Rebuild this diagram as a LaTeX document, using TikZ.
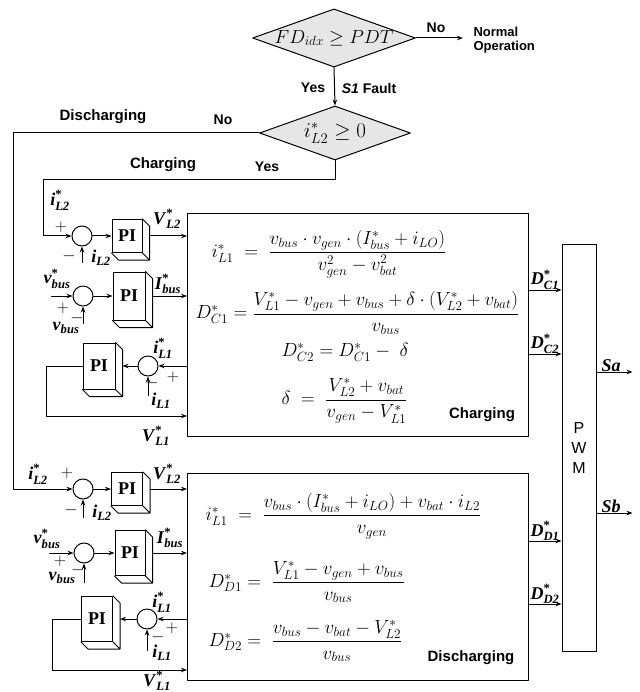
\documentclass[tikz,border=0pt]{standalone}
\usepackage{fix-cm}
\usepackage{amsmath}
\usepackage{fontspec}
\setmainfont{Liberation Serif}
\newfontfamily\arialf{Liberation Sans}
\usetikzlibrary{shapes.geometric,arrows.meta,calc,fit}
\definecolor{dgray}{RGB}{231,230,230}
\newcommand{\sgs}[2]{$\textbf{\textit{#1}}^{\textbf{*}}_{\textbf{\textit{#2}}}$}
\newcommand{\sgn}[2]{$\textbf{\textit{#1}}_{\textbf{\textit{#2}}}$}

\begin{document}
\begin{tikzpicture}[x=1pt,y=-1pt,line cap=round,line join=round,line width=1pt,
  >={Stealth[length=6pt,width=4.5pt]},
  dia/.style={diamond,draw,fill=dgray,shape aspect=2.8,inner sep=0pt,font=\fontsize{19}{21}\selectfont},
  sumc/.style={circle,draw,minimum size=20,inner sep=0pt},
  piblk/.style={rectangle,draw,inner sep=0pt,font=\fontsize{18}{20}\selectfont\bfseries},
  sig/.style={inner sep=0pt,font=\fontsize{18}{20}\selectfont},
  pm/.style={inner sep=0pt,font=\fontsize{17}{19}\selectfont},
  lbl/.style={inner sep=0pt,font=\arialf\bfseries\fontsize{14}{16}\selectfont},
  eq/.style={anchor=west,inner sep=0pt,font=\fontsize{19}{21}\selectfont},
  blk/.style={rectangle,draw,anchor=north west,inner sep=0pt}]
  \useasboundingbox (0,0) rectangle (639,692);

  % 故障判断
  \node[dia,minimum width=162,minimum height=58] (fd) at (334,38) {$FD_{idx}\geq PDT$};
  \node[dia,minimum width=151,minimum height=54,font=\fontsize{21}{23}\selectfont] (ch) at (335,133) {$i^{*}_{L2}\geq 0$};
  \node[lbl,anchor=west,align=left,font=\arialf\bfseries\fontsize{13}{14}\selectfont] (norm) at (473,40) {Normal\\Operation};
  \node[lbl] (no1) at (436,28) {No};
  \node[lbl] (yes1) at (313,88) {Yes};
  \node[lbl] (flt) at (369,88) {\textit{S1} Fault};
  \node[lbl] (no2) at (223,120) {No};
  \node[lbl] (yes2) at (267,167) {Yes};
  \node[lbl,font=\arialf\bfseries\fontsize{15}{17}\selectfont] (dlab) at (103,117) {Discharging};
  \node[lbl,font=\arialf\bfseries\fontsize{15}{17}\selectfont] (clab) at (163,165) {Charging};
  \coordinate (cbend) at (43,180);
  \coordinate (dbend) at (13,133);

  % 充电支路
  \node[sumc] (cs1) at (82,236) {};
  \node[sumc] (cs2) at (83,296) {};
  \node[sumc] (cs3) at (148,366) {};
  \node[piblk,minimum width=30,minimum height=33] (cpi1) at (127,236) {PI};
  \node[piblk,minimum width=32,minimum height=48] (cpi2) at (129,296) {PI};
  \node[piblk,minimum width=32,minimum height=46] (cpi3) at (99,366) {PI};
  \node[blk,minimum width=341,minimum height=223] (cbox) at (187,213) {};
  \node[sig] (c1r) at (60,200) {\sgs{i}{L2}};
  \node[pm] (c1p) at (61,227) {$+$};
  \node[pm] (c1m) at (69,256) {$-$};
  \node[sig] (c1f) at (101,258) {\sgn{i}{L2}};
  \node[sig] (c1o) at (167,219) {\sgs{V}{L2}};
  \node[sig] (c2r) at (57,279) {\sgs{v}{bus}};
  \node[pm] (c2p) at (63,308) {$+$};
  \node[pm] (c2m) at (77,318) {$-$};
  \node[sig] (c2f) at (66,328) {\sgn{v}{bus}};
  \node[sig] (c2o) at (168,284) {\sgs{I}{bus}};
  \node[sig] (c3r) at (163,348) {\sgs{i}{L1}};
  \node[pm] (c3p) at (173,377) {$+$};
  \node[pm] (c3m) at (152,383) {$-$};
  \node[sig] (c3f) at (161,401) {\sgn{i}{L1}};
  \node[sig] (c3o) at (156,436) {\sgs{V}{L1}};

  % 放电支路
  \node[sumc] (ds1) at (83,489) {};
  \node[sumc] (ds2) at (84,553) {};
  \node[sumc] (ds3) at (147,619) {};
  \node[piblk,minimum width=31,minimum height=33] (dpi1) at (127,489) {PI};
  \node[piblk,minimum width=30,minimum height=45] (dpi2) at (130,553) {PI};
  \node[piblk,minimum width=31,minimum height=45] (dpi3) at (97,619) {PI};
  \node[blk,minimum width=341,minimum height=207] (dbox) at (187,473) {};
  \node[sig] (d1r) at (38,474) {\sgs{i}{L2}};
  \node[pm] (d1p) at (67,473) {$+$};
  \node[pm] (d1m) at (71,510) {$-$};
  \node[sig] (d1f) at (102,513) {\sgn{i}{L2}};
  \node[sig] (d1o) at (167,474) {\sgs{V}{L2}};
  \node[sig] (d2r) at (47,539) {\sgs{v}{bus}};
  \node[pm] (d2p) at (60,561) {$+$};
  \node[pm] (d2m) at (78,570) {$-$};
  \node[sig] (d2f) at (62,578) {\sgn{v}{bus}};
  \node[sig] (d2o) at (170,538) {\sgs{I}{bus}};
  \node[sig] (d3r) at (162,602) {\sgs{i}{L1}};
  \node[pm] (d3p) at (172,628) {$+$};
  \node[pm] (d3m) at (158,637) {$-$};
  \node[sig] (d3f) at (162,653) {\sgn{i}{L1}};
  \node[sig] (d3o) at (157,681) {\sgs{V}{L1}};

  % 方程
  \node[eq] (e1) at (211,254) {$i^{*}_{L1}\;=\;\dfrac{v_{bus}\cdot v_{gen}\cdot(I^{*}_{bus}+i_{LO})}{v^{2}_{gen}-v^{2}_{bat}}$};
  \node[eq] (e2) at (195,313) {$D^{*}_{C1}=\dfrac{V^{*}_{L1}-v_{gen}+v_{bus}+\delta\cdot(V^{*}_{L2}+v_{bat})}{v_{bus}}$};
  \node[eq] (e3) at (281,352) {$D^{*}_{C2}=D^{*}_{C1}-\;\delta$};
  \node[eq] (e4) at (281,401) {$\delta\;=\;\dfrac{V^{*}_{L2}+v_{bat}}{v_{gen}-V^{*}_{L1}}$};
  \node[eq] (f1) at (205,516) {$i^{*}_{L1}\;=\;\dfrac{v_{bus}\cdot(I^{*}_{bus}+i_{LO})+v_{bat}\cdot i_{L2}}{v_{gen}}$};
  \node[eq] (f2) at (208,582) {$D^{*}_{D1}=\;\dfrac{V^{*}_{L1}-v_{gen}+v_{bus}}{v_{bus}}$};
  \node[eq] (f3) at (208,641) {$D^{*}_{D2}=\;\dfrac{v_{bus}-v_{bat}-V^{*}_{L2}}{v_{bus}}$};
  \node[lbl,font=\arialf\bfseries\fontsize{15}{17}\selectfont] (cmode) at (482,415) {Charging};
  \node[lbl,font=\arialf\bfseries\fontsize{15}{17}\selectfont] (dmode) at (471,658) {Discharging};

  % PWM
  \coordinate (ptl) at (562,245);
  \coordinate (pbr) at (596,651);
  \node[draw,inner sep=0pt,fit=(ptl)(pbr)] (pwm) {};
  \node[align=center,inner sep=0pt,font=\arialf\fontsize{16}{20}\selectfont] (pwmt) at (pwm.center) {P\\W\\M};
  \node[sig,anchor=south] (dc1) at (545,290) {\sgs{D}{C1}};
  \node[sig,anchor=south] (dc2) at (545,354) {\sgs{D}{C2}};
  \node[sig,anchor=south] (dd1) at (545,541) {\sgs{D}{D1}};
  \node[sig,anchor=south] (dd2) at (545,604) {\sgs{D}{D2}};
  \node[sig,anchor=south] (sa) at (611,372) {\textbf{\textit{Sa}}};
  \node[sig,anchor=south] (sb) at (611,513) {\textbf{\textit{Sb}}};

  % PI 立体侧面
  \foreach \n in {cpi1,cpi2,cpi3,dpi1,dpi2,dpi3} {
    \draw (\n.north east) -- ++(7,7) -- ($(\n.south east)+(7,7)$) -- ($(\n.south west)+(7,7)$) -- (\n.south west)
      (\n.south east) -- ++(7,7);
  }

  % 连线
  \draw[->] (fd.east) -- (fd.east -| norm.west) [shorten >=10pt];
  \draw[->] (fd.south) -- (ch.north);
  \draw[->] (ch.south) |- (cbend) |- (cs1.west);
  \draw[->] (ch.west) -- (dbend) |- (ds1.west);

  \draw[->] (cs1.east) -- (cpi1.west);
  \draw[->] ([xshift=7pt]cpi1.east) -- (cbox.west |- cpi1.east);
  \draw[<-] (cs1.south) -- ++(0,16);
  \draw[<-] (cs2.west) -- ++(-21,0);
  \draw[->] (cs2.east) -- (cpi2.west);
  \draw[->] ([xshift=7pt]cpi2.east) -- (cbox.west |- cpi2.east);
  \draw[<-] (cs2.south) -- ++(0,17);
  \draw[->] (cbox.west |- cs3.east) -- (cs3.east);
  \draw[->] (cs3.west) -- ([xshift=7pt]cpi3.east);
  \draw[<-] (cs3.south) -- ++(0,19);
  \coordinate (cvl) at (46,416);
  \draw[->] (cpi3.west) -| (cvl) -- (cvl -| cbox.west);

  \draw[->] (ds1.east) -- (dpi1.west);
  \draw[->] ([xshift=7pt]dpi1.east) -- (dbox.west |- dpi1.east);
  \draw[<-] (ds1.south) -- ++(0,18);
  \draw[<-] (ds2.west) -- ++(-24,0);
  \draw[->] (ds2.east) -- (dpi2.west);
  \draw[->] ([xshift=7pt]dpi2.east) -- (dbox.west |- dpi2.east);
  \draw[<-] (ds2.south) -- ++(0,19);
  \draw[->] (dbox.west |- ds3.east) -- (ds3.east);
  \draw[->] (ds3.west) -- ([xshift=7pt]dpi3.east);
  \draw[<-] (ds3.south) -- ++(0,21);
  \coordinate (dvl) at (52,670);
  \draw[->] (dpi3.west) -| (dvl) -- (dvl -| dbox.west);

  \draw[->] (cbox.east |- dc1.south) -- (pwm.west |- dc1.south);
  \draw[->] (cbox.east |- dc2.south) -- (pwm.west |- dc2.south);
  \draw[->] (dbox.east |- dd1.south) -- (pwm.west |- dd1.south);
  \draw[->] (dbox.east |- dd2.south) -- (pwm.west |- dd2.south);
  \draw[->] (pwm.east |- sa.south) -- ++(36,0);
  \draw[->] (pwm.east |- sb.south) -- ++(36,0);
\end{tikzpicture}
\end{document}
